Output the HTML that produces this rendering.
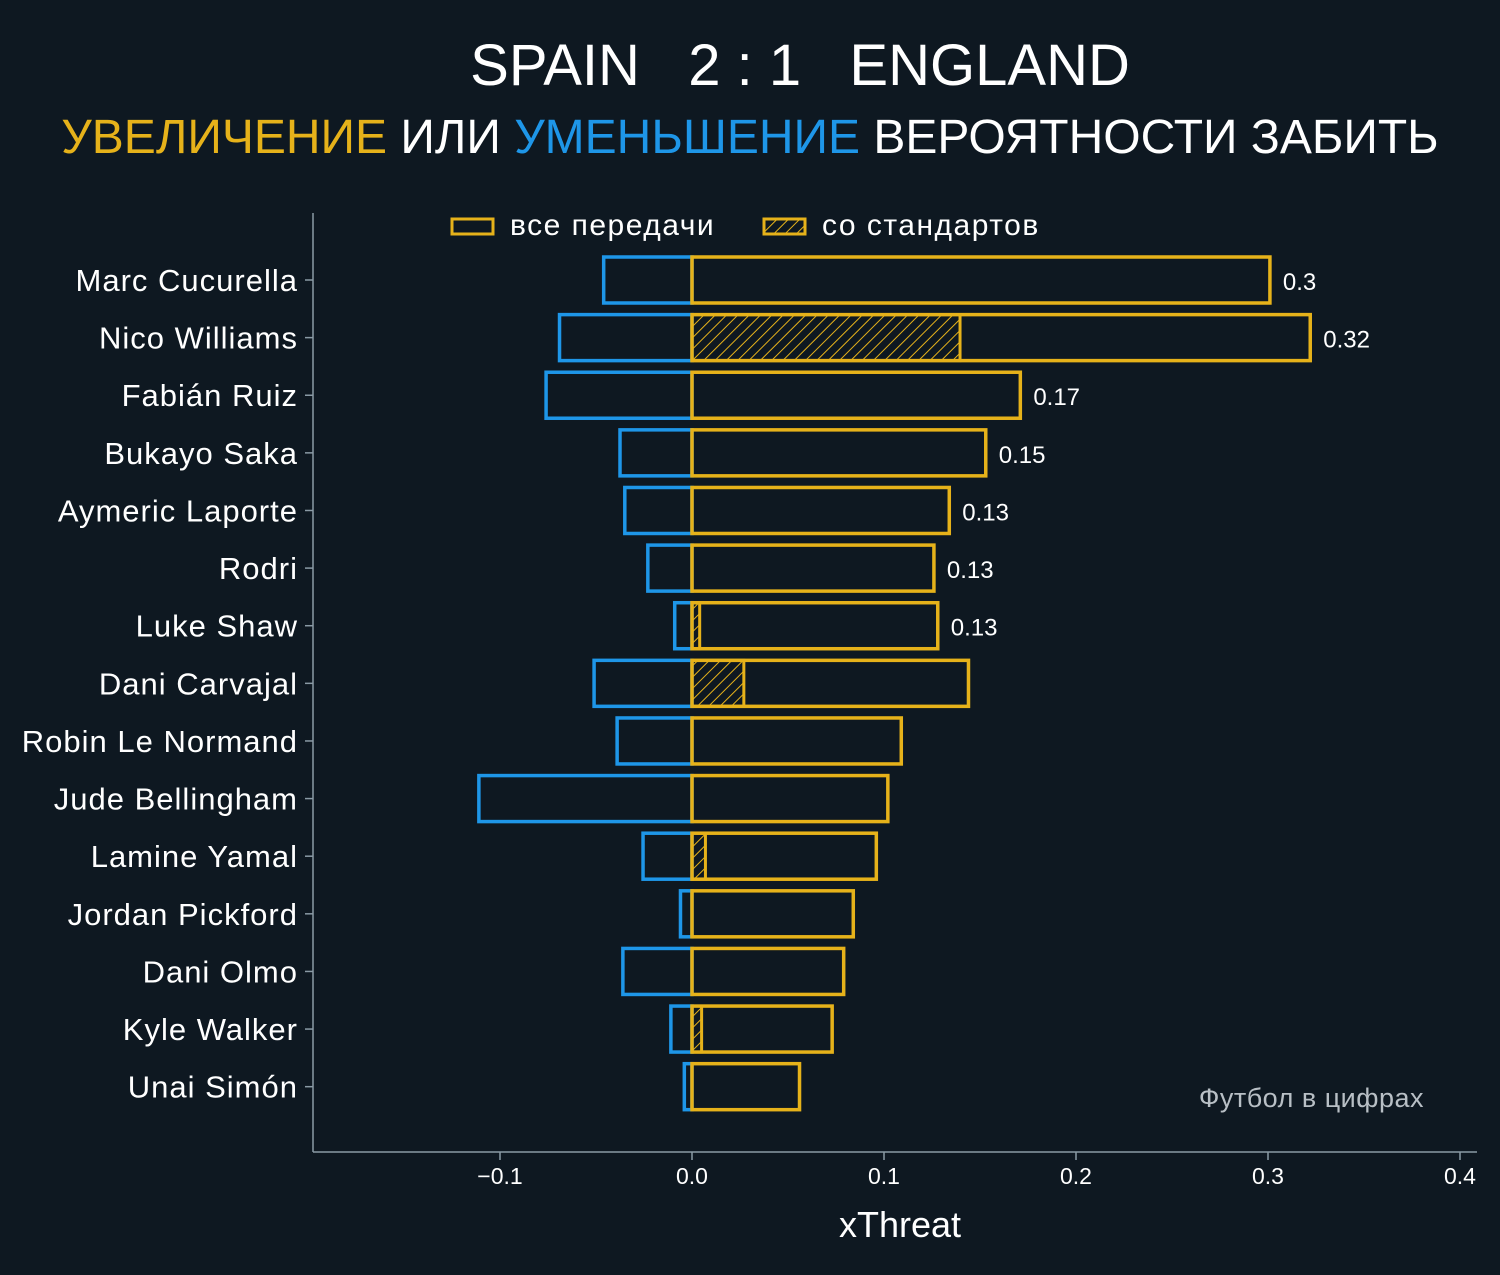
<!DOCTYPE html>
<html><head><meta charset="utf-8">
<style>
body{margin:0;background:#0e1821;}
svg{display:block;font-family:"Liberation Sans","DejaVu Sans",sans-serif;}
</style></head>
<body>
<svg id="chart" width="1500" height="1275" viewBox="0 0 1500 1275" xmlns="http://www.w3.org/2000/svg">
<defs>
<pattern id="hatch" patternUnits="userSpaceOnUse" width="8" height="8" patternTransform="rotate(45)">
<line x1="0" y1="0" x2="0" y2="8" stroke="#e6b21a" stroke-width="2"/>
</pattern>
</defs>
<rect width="1500" height="1275" fill="#0e1821"/>
<text x="800" y="85" text-anchor="middle" font-size="58" fill="#fff" xml:space="preserve">SPAIN   2 : 1   ENGLAND</text>
<text x="750" y="153" text-anchor="middle" font-size="48" fill="#fff"><tspan fill="#e6b21a">УВЕЛИЧЕНИЕ</tspan> ИЛИ <tspan fill="#1e96e8">УМЕНЬШЕНИЕ</tspan> ВЕРОЯТНОСТИ ЗАБИТЬ</text>
<g>
<rect x="452" y="219" width="41" height="15" fill="none" stroke="#e6b21a" stroke-width="3"/>
<text x="510" y="235" font-size="30" letter-spacing="1.5" fill="#fff">все передачи</text>
<rect x="764" y="219" width="41" height="15" fill="url(#hatch)" stroke="#e6b21a" stroke-width="3"/>
<text x="822" y="235" font-size="30" letter-spacing="1.5" fill="#fff">со стандартов</text>
</g>
<g id="plot"></g>
<text x="1424" y="1107" text-anchor="end" font-size="27" letter-spacing="0.5" fill="#b8bfc5">Футбол в цифрах</text>
<text x="900" y="1237" text-anchor="middle" font-size="36" fill="#fff">xThreat</text>
</svg>
<script>
const players=["Marc Cucurella","Nico Williams","Fabián Ruiz","Bukayo Saka","Aymeric Laporte","Rodri","Luke Shaw","Dani Carvajal","Robin Le Normand","Jude Bellingham","Lamine Yamal","Jordan Pickford","Dani Olmo","Kyle Walker","Unai Simón"];
const positive=[0.301,0.322,0.171,0.153,0.134,0.126,0.128,0.144,0.109,0.102,0.096,0.084,0.079,0.073,0.056];
const setPieces=[0,0.1396,0,0,0,0,0.004,0.027,0,0,0.007,0,0,0.005,0];
const negative=[-0.046,-0.069,-0.076,-0.0375,-0.035,-0.023,-0.009,-0.051,-0.039,-0.111,-0.0255,-0.006,-0.036,-0.011,-0.004];
const valueLabels=["0.3","0.32","0.17","0.15","0.13","0.13","0.13","","","","","","","",""];
const xTicks=[-0.1,0,0.1,0.2,0.3,0.4];
const xTickLabels=["−0.1","0.0","0.1","0.2","0.3","0.4"];

const NS="http://www.w3.org/2000/svg";
const g=document.getElementById('plot');
const x=v=>692+v*1920;
const y=i=>280+i*57.62;
const bh=46;
function el(t,a){const e=document.createElementNS(NS,t);for(const k in a)e.setAttribute(k,a[k]);g.appendChild(e);return e;}
players.forEach((p,i)=>{
  const cy=y(i);
  const n=el('rect',{x:x(negative[i]),y:cy-bh/2,width:x(0)-x(negative[i]),height:bh,fill:'none',stroke:'#1e96e8','stroke-width':3.5});
  
  
  if(setPieces[i]>0){
    const h=el('rect',{x:x(0),y:cy-bh/2,width:x(setPieces[i])-x(0),height:bh,fill:'url(#hatch)',stroke:'#e6b21a','stroke-width':3});
    
    
  }
  const r=el('rect',{x:x(0),y:cy-bh/2,width:x(positive[i])-x(0),height:bh,fill:'none',stroke:'#e6b21a','stroke-width':3.5});
  
  
  if(valueLabels[i]){
    const t=el('text',{x:x(positive[i])+13,y:cy+10,'font-size':24,fill:'#fff'});
    t.textContent=valueLabels[i];
    
    
  }
  const tk=el('line',{x1:305,x2:313,y1:cy,y2:cy,stroke:'#8a9aa5','stroke-width':1.5});
  
  
  const lb=el('text',{x:298,y:cy+11,'font-size':31,'letter-spacing':1,fill:'#fff','text-anchor':'end'});
  lb.textContent=p;
  
  
});
const ya=el('line',{x1:313,x2:313,y1:213,y2:1152,stroke:'#8a9aa5','stroke-width':1.5});


const xa=el('line',{x1:313,x2:1477,y1:1152,y2:1152,stroke:'#8a9aa5','stroke-width':1.5});


xTicks.forEach((v,i)=>{
  const l=el('line',{x1:x(v),x2:x(v),y1:1152,y2:1160,stroke:'#8a9aa5','stroke-width':1.5});
  
  
  const t=el('text',{x:x(v),y:1184,'font-size':23,fill:'#fff','text-anchor':'middle'});
  t.textContent=xTickLabels[i];
  
  
});
</script>
</body></html>
